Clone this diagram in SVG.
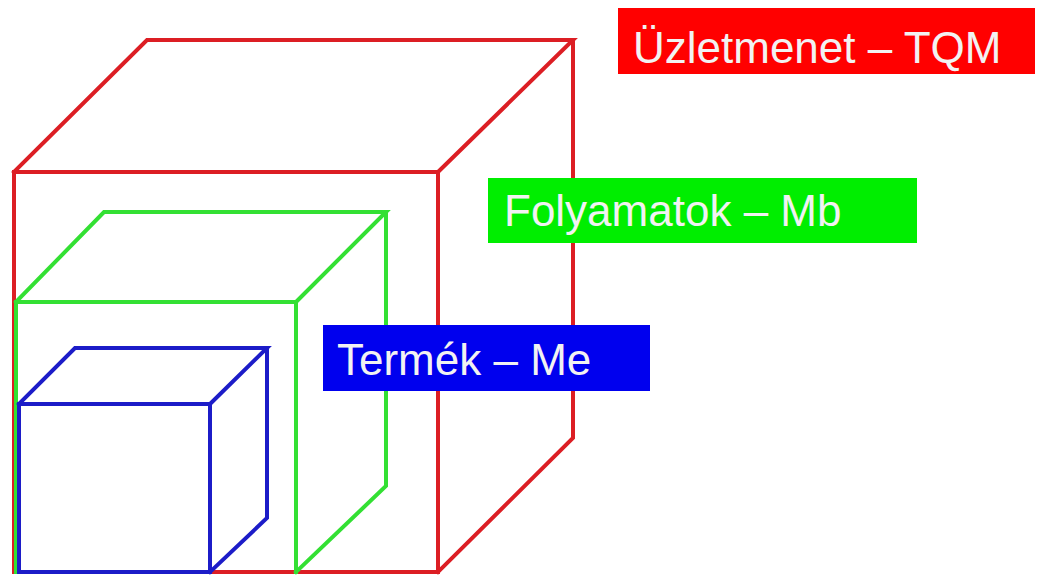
<svg xmlns="http://www.w3.org/2000/svg" width="1043" height="576" viewBox="0 0 1043 576">
<style>
.edge{fill:none;stroke-width:4;stroke-linejoin:miter;stroke-linecap:square}
.red{stroke:#dc1e24}
.green{stroke:#33e033}
.blue{stroke:#1c1cc8}
.lbl{font-family:"Liberation Sans",Arial,sans-serif;font-size:44px;fill:#f2f2f2}
</style>
<rect width="1043" height="576" fill="#ffffff"/>
<g id="cube-tqm">
<path class="edge red" d="M14,572 V172 H438 V572 Z M14,172 L147,40 H573 L438,172 M573,40 V438 L438,572"/>
</g>
<g id="cube-mb">
<path class="edge green" d="M16,572 V302 H296 V572 M16,302 L104,212 H386 L296,302 M386,212 V486 L296,572"/>
</g>
<g id="cube-me">
<path class="edge blue" d="M19,572 V404 H210 V572 Z M19,404 L75,348 H267 L210,404 M267,348 V518 L210,572"/>
</g>
<g id="label-tqm">
<rect x="618" y="8" width="417" height="66" fill="#ff0000"/>
<text class="lbl" x="633" y="63">Üzletmenet – TQM</text>
</g>
<g id="label-mb">
<rect x="488" y="178" width="429" height="65" fill="#00ee00"/>
<text class="lbl" x="504" y="226">Folyamatok – Mb</text>
</g>
<g id="label-me">
<rect x="323" y="325" width="327" height="66" fill="#0000ee"/>
<text class="lbl" x="337" y="375">Termék – Me</text>
</g>
</svg>
